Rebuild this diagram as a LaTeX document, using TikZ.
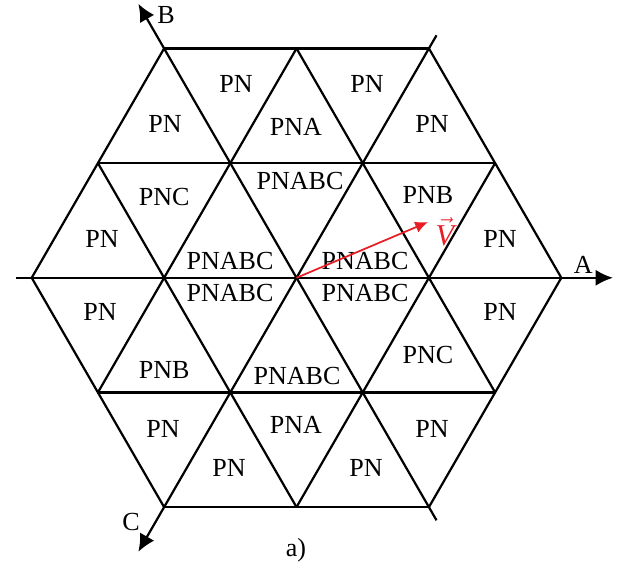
\documentclass[tikz,border=0pt]{standalone}
\usepackage{fontspec}
\setmainfont{Liberation Serif}
\usetikzlibrary{arrows.meta}
\definecolor{vecred}{RGB}{232,30,36}

\begin{document}
\begin{tikzpicture}[>={Latex[length=7.5pt,width=7pt]},
    font=\fontsize{11.2}{13}\selectfont,
    zona/.style={inner sep=1pt},
    linea/.style={line width=0.95pt}]

        \useasboundingbox (-4.479,-4.430) rectangle (4.992,4.196);

        % 1. Esagono e reticolo di triangoli (lato 2)
        \foreach \a in {0,60,...,300} {
            \draw[linea, rotate=\a] (-2,3.464) -- (2,3.464);
            \draw[linea, rotate=\a] (-3,1.732) -- (3,1.732);
        }

        % 2. Assi A, B, C con le loro etichette
        \coordinate (O) at (0,0);
        \draw[->, linea] (180:4.23) -- (0:4.78) coordinate (A);
        \draw[->, linea] (300:4.23) -- (120:4.78) coordinate (B);
        \draw[->, linea] (60:4.23) -- (240:4.78) coordinate (C);
        \node (labA) at (4.33,0.19) {A};
        \node (labB) at (-1.97,3.97) {B};
        \node (labC) at (-2.50,-3.69) {C};

        % 3. Zone (riga per riga, dall'alto)
        \node[zona] (z1) at (-0.914,2.927) {PN};
        \node[zona] (z2) at (1.065,2.927) {PN};
        \node[zona] (z3) at (-1.986,2.323) {PN};
        \node[zona] (z4) at (-0.008,2.277) {PNA};
        \node[zona] (z5) at (2.047,2.323) {PN};
        \node[zona] (z6) at (0.053,1.461) {PNABC};
        \node[zona] (z7) at (-2.0,1.22) {PNC};
        \node[zona] (z8) at (1.986,1.25) {PNB};
        \node[zona] (z9) at (-2.938,0.585) {PN};
        \node[zona] (z10) at (3.074,0.585) {PN};
        \node[zona] (z11) at (-1.005,0.253) {PNABC};
        \node[zona] (z12) at (1.035,0.253) {PNABC};
        \node[zona] (z13) at (-1.005,-0.23) {PNABC};
        \node[zona] (z14) at (1.035,-0.23) {PNABC};
        \node[zona] (z15) at (-2.968,-0.517) {PN};
        \node[zona] (z16) at (3.074,-0.517) {PN};
        \node[zona] (z17) at (1.986,-1.167) {PNC};
        \node[zona] (z18) at (-2.0,-1.394) {PNB};
        \node[zona] (z19) at (0.008,-1.484) {PNABC};
        \node[zona] (z20) at (-2.017,-2.285) {PN};
        \node[zona] (z21) at (-0.008,-2.225) {PNA};
        \node[zona] (z22) at (2.047,-2.285) {PN};
        \node[zona] (z23) at (-1.02,-2.874) {PN};
        \node[zona] (z24) at (1.05,-2.874) {PN};

        % 4. Vettore V (in rosso)
        \draw[-{Latex[length=5.5pt,width=5pt]}, line width=0.75pt, vecred] (O) -- (1.986,0.842) coordinate (Vtip);
        \node[text=vecred, inner sep=0pt, font=\fontsize{13}{15}\selectfont] (labV) at (2.24,0.69) {$\vec{\mathit{V}}$};

        % 5. Didascalia
        \node (cap) at (-0.008,-4.113) {a)};

\end{tikzpicture}
\end{document}
